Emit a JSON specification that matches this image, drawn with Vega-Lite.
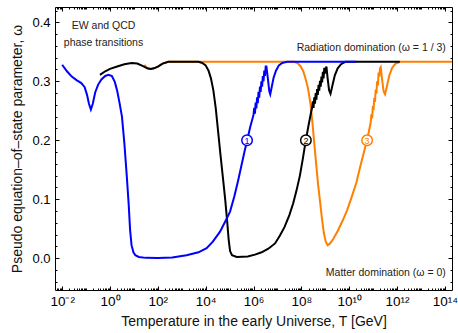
{
  "$schema": "https://vega.github.io/schema/vega-lite/v6.json",
  "width": 397,
  "height": 283,
  "autosize": {"type": "none"},
  "padding": {"left": 55, "top": 7, "right": 6, "bottom": 43},
  "config": {
    "font": "Liberation Sans",
    "view": {"stroke": "#000", "strokeWidth": 1},
    "axis": {"domain": false, "grid": false, "tickColor": "#000", "tickWidth": 1, "labelColor": "#000", "labelFontSize": 12.5, "titleFontSize": 14, "titleFontWeight": "normal", "titleColor": "#111", "labelFont": "Liberation Sans", "titleFont": "Liberation Sans", "labelOverlap": false, "labelFlush": false, "labelBound": false}
  },
  "datasets": {
    "blue": [
      {"T":0.01,"w":0.328},{"T":0.01585,"w":0.317},{"T":0.02512,"w":0.308},{"T":0.03981,"w":0.302},{"T":0.0631,"w":0.297},{"T":0.0871,"w":0.290},{"T":0.1096,"w":0.277},{"T":0.1318,"w":0.262},{"T":0.1585,"w":0.252},{"T":0.1905,"w":0.262},{"T":0.2399,"w":0.281},{"T":0.3162,"w":0.294},{"T":0.4365,"w":0.303},{"T":0.631,"w":0.309},{"T":0.871,"w":0.311},{"T":1.202,"w":0.309},{"T":1.585,"w":0.299},{"T":1.995,"w":0.284},{"T":2.512,"w":0.263},{"T":3.162,"w":0.240},{"T":3.981,"w":0.195},{"T":5.012,"w":0.140},{"T":6.026,"w":0.092},{"T":6.918,"w":0.048},{"T":7.943,"w":0.022},{"T":9.55,"w":0.010},{"T":11.48,"w":0.005},{"T":15.85,"w":0.002},{"T":31.62,"w":0.0005},{"T":100,"w":0.0003},{"T":398.1,"w":0.001},{"T":1585,"w":0.005},{"T":5012,"w":0.010},{"T":10960,"w":0.017},{"T":19950,"w":0.028},{"T":39810,"w":0.045},{"T":69180,"w":0.064},{"T":104700,"w":0.079},{"T":158500,"w":0.105},{"T":229100,"w":0.132},{"T":316200,"w":0.158},{"T":416900,"w":0.180},{"T":549500,"w":0.201},{"T":724400,"w":0.222},{"T":1000000,"w":0.243},{"T":1072000,"w":0.255},{"T":1148000,"w":0.245},{"T":1230000,"w":0.264},{"T":1318000,"w":0.254},{"T":1413000,"w":0.273},{"T":1514000,"w":0.263},{"T":1622000,"w":0.282},{"T":1738000,"w":0.272},{"T":1862000,"w":0.291},{"T":1995000,"w":0.282},{"T":2138000,"w":0.300},{"T":2291000,"w":0.291},{"T":2455000,"w":0.309},{"T":2630000,"w":0.300},{"T":2818000,"w":0.318},{"T":3020000,"w":0.309},{"T":3236000,"w":0.325},{"T":3467000,"w":0.325},{"T":3981000,"w":0.305},{"T":4571000,"w":0.283},{"T":5012000,"w":0.278},{"T":5754000,"w":0.290},{"T":6918000,"w":0.306},{"T":8710000,"w":0.318},{"T":11480000,"w":0.327},{"T":15850000,"w":0.331},{"T":25120000,"w":0.333},{"T":1.995e10,"w":0.3333}
    ],
    "black": [
      {"T":0.3802,"w":0.311},{"T":0.631,"w":0.317},{"T":1,"w":0.321},{"T":1.995,"w":0.325},{"T":3.981,"w":0.329},{"T":7.943,"w":0.331},{"T":13.8,"w":0.330},{"T":22.91,"w":0.326},{"T":36.31,"w":0.322},{"T":50.12,"w":0.321},{"T":69.18,"w":0.322},{"T":100,"w":0.325},{"T":158.5,"w":0.330},{"T":275.4,"w":0.333},{"T":5012,"w":0.333},{"T":7244,"w":0.331},{"T":10000,"w":0.327},{"T":13180,"w":0.318},{"T":16600,"w":0.305},{"T":20890,"w":0.285},{"T":26300,"w":0.255},{"T":33110,"w":0.215},{"T":41690,"w":0.175},{"T":52480,"w":0.137},{"T":66070,"w":0.098},{"T":79430,"w":0.062},{"T":91200,"w":0.032},{"T":104700,"w":0.012},{"T":125900,"w":0.005},{"T":199500,"w":0.002},{"T":575400,"w":0.003},{"T":1148000,"w":0.006},{"T":2188000,"w":0.010},{"T":4169000,"w":0.016},{"T":7943000,"w":0.025},{"T":12590000,"w":0.038},{"T":19950000,"w":0.053},{"T":31620000,"w":0.073},{"T":45710000,"w":0.093},{"T":63100000,"w":0.115},{"T":87100000,"w":0.140},{"T":114800000,"w":0.168},{"T":151400000,"w":0.198},{"T":199500000,"w":0.225},{"T":263000000,"w":0.250},{"T":281800000,"w":0.255},{"T":302000000,"w":0.266},{"T":323600000,"w":0.255},{"T":346700000,"w":0.273},{"T":371500000,"w":0.262},{"T":398100000,"w":0.280},{"T":426600000,"w":0.269},{"T":457100000,"w":0.287},{"T":489800000,"w":0.277},{"T":524800000,"w":0.294},{"T":562300000,"w":0.284},{"T":602600000,"w":0.301},{"T":645700000,"w":0.291},{"T":691800000,"w":0.308},{"T":741300000,"w":0.298},{"T":794300000,"w":0.316},{"T":851100000,"w":0.305},{"T":912000000,"w":0.323},{"T":977200000,"w":0.313},{"T":1047000000,"w":0.322},{"T":1122000000,"w":0.325},{"T":1259000000,"w":0.305},{"T":1445000000,"w":0.285},{"T":1660000000,"w":0.279},{"T":1995000000,"w":0.293},{"T":2512000000,"w":0.310},{"T":3311000000,"w":0.322},{"T":4571000000,"w":0.329},{"T":6918000000,"w":0.333},{"T":1.318e12,"w":0.3333}
    ],
    "orange": [
      {"T":27.54,"w":0.328},{"T":36.31,"w":0.322},{"T":50.12,"w":0.321},{"T":69.18,"w":0.322},{"T":100,"w":0.325},{"T":158.5,"w":0.330},{"T":275.4,"w":0.333},{"T":50120000,"w":0.333},{"T":69180000,"w":0.331},{"T":91200000,"w":0.326},{"T":120200000,"w":0.317},{"T":151400000,"w":0.304},{"T":190500000,"w":0.288},{"T":239900000,"w":0.262},{"T":288400000,"w":0.232},{"T":346700000,"w":0.195},{"T":416900000,"w":0.160},{"T":501200000,"w":0.125},{"T":602600000,"w":0.097},{"T":724400000,"w":0.068},{"T":871000000,"w":0.043},{"T":1047000000,"w":0.028},{"T":1259000000,"w":0.022},{"T":1585000000,"w":0.025},{"T":2188000000,"w":0.033},{"T":3311000000,"w":0.046},{"T":5248000000,"w":0.063},{"T":8318000000,"w":0.082},{"T":12590000000,"w":0.103},{"T":19950000000,"w":0.128},{"T":30200000000,"w":0.158},{"T":41690000000,"w":0.180},{"T":57540000000,"w":0.202},{"T":79430000000,"w":0.230},{"T":85110000000,"w":0.244},{"T":91200000000,"w":0.237},{"T":97720000000,"w":0.258},{"T":104700000000,"w":0.251},{"T":112200000000,"w":0.272},{"T":120200000000,"w":0.265},{"T":128800000000,"w":0.286},{"T":138000000000,"w":0.279},{"T":147900000000,"w":0.300},{"T":158500000000,"w":0.293},{"T":169800000000,"w":0.315},{"T":182000000000,"w":0.308},{"T":195000000000,"w":0.322},{"T":208900000000,"w":0.324},{"T":239900000000,"w":0.302},{"T":275400000000,"w":0.283},{"T":316200000000,"w":0.278},{"T":380200000000,"w":0.292},{"T":478600000000,"w":0.310},{"T":631000000000,"w":0.323},{"T":871000000000,"w":0.330},{"T":1380000000000,"w":0.333},{"T":1.995e14,"w":0.3333}
    ],
    "markers": [
      {"n":"1","T":537000,"w":0.2},{"n":"2","T":154900000,"w":0.2},{"n":"3","T":56230000000,"w":0.2}
    ],
    "notes": [
      {"label":"EW and QCD","T":0.535,"w":0.394,"side":"center"},
      {"label":"phase transitions","T":0.535,"w":0.3655,"side":"center"},
      {"label":"Radiation domination (ω = 1 / 3)","T":1.1e14,"w":0.357,"side":"right"},
      {"label":"Matter domination (ω = 0)","T":1.1e14,"w":-0.026,"side":"right"}
    ]
  },
  "layer": [
    {
      "mark": {"type": "rule", "strokeDash": [5, 3], "color": "#8a8a8a", "strokeWidth": 1.2},
      "encoding": {"y": {"datum": 0.33333, "type": "quantitative", "scale": {"domain": [-0.054, 0.426], "nice": false, "zero": false}, "axis": null}}
    },
    {
      "mark": {"type": "rule", "strokeDash": [5, 3], "color": "#8a8a8a", "strokeWidth": 1.2},
      "encoding": {"y": {"datum": 0, "type": "quantitative", "scale": {"domain": [-0.054, 0.426], "nice": false, "zero": false}, "axis": null}}
    },
    {
      "data": {"name": "orange"},
      "mark": {"type": "line", "color": "#ff8000", "strokeWidth": 2, "clip": true},
      "encoding": {
        "x": {"field": "T", "type": "quantitative", "scale": {"type": "log", "domain": [0.005012, 1.995e14], "nice": false},
          "axis": {"orient": "bottom", "values": [0.01, 1, 100, 10000, 1000000, 100000000, 10000000000, 1000000000000, 100000000000000], "tickSize": -4, "labelPadding": 8, "labelFontSize": 13.5, "labelExpr": "'10' + ['⁻²','⁰','²','⁴','⁶','⁸','¹⁰','¹²','¹⁴'][round(log(datum.value)/LN10/2)+1]", "title": "Temperature in the early Universe, T [GeV]", "titlePadding": 7}},
        "y": {"field": "w", "type": "quantitative", "scale": {"domain": [-0.054, 0.426], "nice": false, "zero": false},
          "axis": {"orient": "left", "values": [0, 0.1, 0.2, 0.3, 0.4], "format": ".1f", "tickSize": -4, "labelPadding": 9, "labelFontSize": 13, "title": "Pseudo equation–of–state  parameter, ω", "titlePadding": 7}}
      }
    },
    {
      "data": {"name": "black"},
      "mark": {"type": "line", "color": "#000000", "strokeWidth": 2, "clip": true},
      "encoding": {
        "x": {"field": "T", "type": "quantitative", "scale": {"type": "log", "domain": [0.005012, 1.995e14], "nice": false},
          "axis": {"orient": "bottom", "values": [0.006,0.007,0.008,0.009,0.02,0.03,0.04,0.05,0.06,0.07,0.08,0.09,0.1,0.2,0.3,0.4,0.5,0.6,0.7,0.8,0.9,2,3,4,5,6,7,8,9,10,20,30,40,50,60,70,80,90,200,300,400,500,600,700,800,900,1000,2000,3000,4000,5000,6000,7000,8000,9000,20000,30000,40000,50000,60000,70000,80000,90000,100000,200000,300000,400000,500000,600000,700000,800000,900000,2e6,3e6,4e6,5e6,6e6,7e6,8e6,9e6,1e7,2e7,3e7,4e7,5e7,6e7,7e7,8e7,9e7,2e8,3e8,4e8,5e8,6e8,7e8,8e8,9e8,1e9,2e9,3e9,4e9,5e9,6e9,7e9,8e9,9e9,2e10,3e10,4e10,5e10,6e10,7e10,8e10,9e10,1e11,2e11,3e11,4e11,5e11,6e11,7e11,8e11,9e11,2e12,3e12,4e12,5e12,6e12,7e12,8e12,9e12,1e13,2e13,3e13,4e13,5e13,6e13,7e13,8e13,9e13], "tickSize": -2, "labels": false, "title": null}},
        "y": {"field": "w", "type": "quantitative", "scale": {"domain": [-0.054, 0.426], "nice": false, "zero": false},
          "axis": {"orient": "left", "values": [-0.04,-0.02,0.02,0.04,0.06,0.08,0.12,0.14,0.16,0.18,0.22,0.24,0.26,0.28,0.32,0.34,0.36,0.38,0.42], "tickSize": -2, "labels": false, "title": null}}
      }
    },
    {
      "data": {"name": "blue"},
      "mark": {"type": "line", "color": "#0000ff", "strokeWidth": 2, "clip": true},
      "encoding": {
        "x": {"field": "T", "type": "quantitative", "scale": {"type": "log", "domain": [0.005012, 1.995e14], "nice": false},
          "axis": {"orient": "top", "values": [0.01, 1, 100, 10000, 1000000, 100000000, 10000000000, 1000000000000, 100000000000000], "tickSize": -4, "labels": false, "title": null}},
        "y": {"field": "w", "type": "quantitative", "scale": {"domain": [-0.054, 0.426], "nice": false, "zero": false},
          "axis": {"orient": "right", "values": [0, 0.1, 0.2, 0.3, 0.4], "tickSize": -4, "labels": false, "title": null}}
      }
    },
    {
      "data": {"name": "markers"},
      "mark": {"type": "point", "shape": "circle", "filled": false, "fill": "white", "fillOpacity": 1, "strokeWidth": 1.5, "size": 110, "opacity": 1},
      "encoding": {
        "x": {"field": "T", "type": "quantitative", "scale": {"type": "log", "domain": [0.005012, 1.995e14], "nice": false},
          "axis": {"orient": "top", "values": [0.006,0.007,0.008,0.009,0.02,0.03,0.04,0.05,0.06,0.07,0.08,0.09,0.1,0.2,0.3,0.4,0.5,0.6,0.7,0.8,0.9,2,3,4,5,6,7,8,9,10,20,30,40,50,60,70,80,90,200,300,400,500,600,700,800,900,1000,2000,3000,4000,5000,6000,7000,8000,9000,20000,30000,40000,50000,60000,70000,80000,90000,100000,200000,300000,400000,500000,600000,700000,800000,900000,2e6,3e6,4e6,5e6,6e6,7e6,8e6,9e6,1e7,2e7,3e7,4e7,5e7,6e7,7e7,8e7,9e7,2e8,3e8,4e8,5e8,6e8,7e8,8e8,9e8,1e9,2e9,3e9,4e9,5e9,6e9,7e9,8e9,9e9,2e10,3e10,4e10,5e10,6e10,7e10,8e10,9e10,1e11,2e11,3e11,4e11,5e11,6e11,7e11,8e11,9e11,2e12,3e12,4e12,5e12,6e12,7e12,8e12,9e12,1e13,2e13,3e13,4e13,5e13,6e13,7e13,8e13,9e13], "tickSize": -2, "labels": false, "title": null}},
        "y": {"field": "w", "type": "quantitative", "scale": {"domain": [-0.054, 0.426], "nice": false, "zero": false},
          "axis": {"orient": "right", "values": [-0.04,-0.02,0.02,0.04,0.06,0.08,0.12,0.14,0.16,0.18,0.22,0.24,0.26,0.28,0.32,0.34,0.36,0.38,0.42], "tickSize": -2, "labels": false, "title": null}},
        "color": {"field": "n", "type": "nominal", "scale": {"domain": ["1","2","3"], "range": ["#0000ff","#000000","#ff8000"]}, "legend": null}
      }
    },
    {
      "data": {"name": "markers"},
      "mark": {"type": "text", "fontSize": 9, "font": "Liberation Sans", "baseline": "middle", "align": "center", "dy": 0.5},
      "encoding": {
        "x": {"field": "T", "type": "quantitative", "scale": {"type": "log", "domain": [0.005012, 1.995e14], "nice": false}, "axis": null},
        "y": {"field": "w", "type": "quantitative", "scale": {"domain": [-0.054, 0.426], "nice": false, "zero": false}, "axis": null},
        "text": {"field": "n"},
        "color": {"field": "n", "type": "nominal", "scale": {"domain": ["1","2","3"], "range": ["#0000ff","#000000","#ff8000"]}, "legend": null}
      }
    },
    {
      "data": {"name": "notes"},
      "transform": [{"filter": "datum.side == 'center'"}],
      "mark": {"type": "text", "fontSize": 10.5, "font": "Liberation Sans", "color": "#222", "align": "center", "baseline": "middle"},
      "encoding": {
        "x": {"field": "T", "type": "quantitative", "scale": {"type": "log", "domain": [0.005012, 1.995e14], "nice": false}, "axis": null},
        "y": {"field": "w", "type": "quantitative", "scale": {"domain": [-0.054, 0.426], "nice": false, "zero": false}, "axis": null},
        "text": {"field": "label"}
      }
    },
    {
      "data": {"name": "notes"},
      "transform": [{"filter": "datum.side == 'right'"}],
      "mark": {"type": "text", "fontSize": 10.5, "font": "Liberation Sans", "color": "#222", "align": "right", "baseline": "middle"},
      "encoding": {
        "x": {"field": "T", "type": "quantitative", "scale": {"type": "log", "domain": [0.005012, 1.995e14], "nice": false}, "axis": null},
        "y": {"field": "w", "type": "quantitative", "scale": {"domain": [-0.054, 0.426], "nice": false, "zero": false}, "axis": null},
        "text": {"field": "label"}
      }
    }
  ],
  "resolve": {"axis": {"x": "independent", "y": "independent"}}
}
